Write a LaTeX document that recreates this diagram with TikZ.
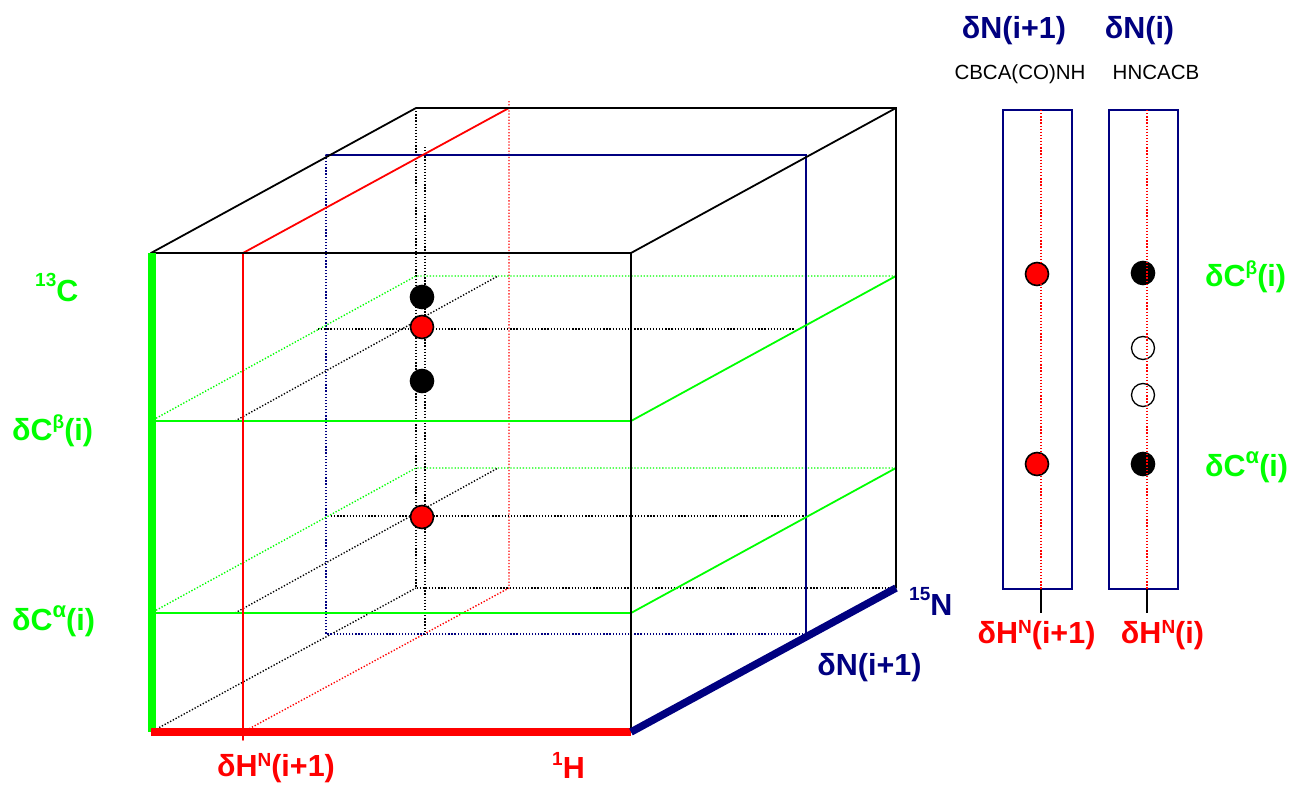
\documentclass[tikz,border=0pt]{standalone}
\usepackage{fontspec}
\setmainfont{Liberation Sans}
\definecolor{gr}{RGB}{0,255,0}
\definecolor{nv}{RGB}{0,0,128}
\newcommand\supr[3][10pt]{\raisebox{#1}{\fontsize{#2}{#2}\selectfont #3}}
\begin{document}
\begin{tikzpicture}[x=1pt,y=-1pt,
  edge/.style={line width=1.8pt,line cap=round},
  hid/.style={line width=1.4pt,dash pattern=on 1.3pt off 1.8pt},
  bar/.style={line width=7.5pt},
  lab/.style={font=\fontsize{30.5}{32}\selectfont\bfseries,anchor=base,inner sep=0pt},
  sm/.style={font=\fontsize{20.5}{22}\selectfont,anchor=base,inner sep=0pt},
  pk/.style={circle,draw=black,line width=1.6pt,minimum size=23pt,inner sep=0pt}]
\useasboundingbox (0,0) rectangle (1294,787);
% cube corners
\coordinate (FTL) at (151,253); \coordinate (FTR) at (631,253);
\coordinate (FBL) at (151,732); \coordinate (FBR) at (631,732);
\coordinate (BTL) at (416,108); \coordinate (BTR) at (896,108);
\coordinate (BBL) at (416,588); \coordinate (BBR) at (896,588);
% hidden cube edges
\draw[hid] (BTL) -- (BBL) -- (BBR);
\draw[hid] (FBL) -- (BBL);
% red plane
\coordinate (R1) at (243,253); \coordinate (R2) at (243,740);
\coordinate (R3) at (509,108); \coordinate (R3a) at (509,101);
\coordinate (R4) at (509,588); \coordinate (R5) at (245,731);
\draw[hid,red] (R3a) -- (R4) -- (R5);
% navy plane
\coordinate (NTL) at (326,155); \coordinate (NTR) at (806,155);
\coordinate (NBR) at (806,637); \coordinate (NBL) at (326,634);
\coordinate (NBRd) at (806,634);
\draw[hid,nv] (NBRd) -- (NBL) -- (NTL);
% green planes
\coordinate (GbFL) at (151,421); \coordinate (GbFR) at (631,421);
\coordinate (GbBR) at (896,276); \coordinate (GbBL) at (416,276);
\coordinate (GaFL) at (151,613); \coordinate (GaFR) at (631,613);
\coordinate (GaBR) at (896,468); \coordinate (GaBL) at (416,468);
\draw[hid,gr] (GbBR) -- (GbBL) -- (GbFL);
\draw[hid,gr] (GaBR) -- (GaBL) -- (GaFL);
% black dotted construction lines
\coordinate (V1) at (425,147); \coordinate (V2) at (425,634);
\draw[hid] (V1) -- (V2);
\coordinate (D1a) at (235,421); \coordinate (D1b) at (498,276);
\coordinate (D2a) at (235,613); \coordinate (D2b) at (498,468);
\draw[hid] (D1a) -- (D1b);
\draw[hid] (D2a) -- (D2b);
\coordinate (H1a) at (318,329); \coordinate (H1b) at (795,329);
\coordinate (H2a) at (331,516); \coordinate (H2b) at (805,516);
\draw[hid] (H1a) -- (H1b);
\draw[hid] (H2a) -- (H2b);
% solid lines
\draw[edge,nv] (NTL) -- (NTR) -- (NBR);
\draw[edge,gr] (GbFL) -- (GbFR) -- (GbBR);
\draw[edge,gr] (GaFL) -- (GaFR) -- (GaBR);
\draw[edge,red] (R2) -- (R1) -- (R3);
\draw[edge] (FTL) -- (FTR) -- (FBR);
\draw[edge] (FTL) -- (BTL) -- (BTR) -- (BBR);
\draw[edge] (FTR) -- (BTR);
% axis bars
\draw[bar,gr] (152,253) coordinate (GA1) -- (152,732) coordinate (GA2);
\draw[bar,red] (FBL) -- (FBR);
\draw[bar,nv] (FBR) -- (BBR);
% peaks in cube
\node[pk,fill=black] (p1) at (422,297) {};
\node[pk,fill=red] (p2) at (422,327) {};
\node[pk,fill=black] (p3) at (422,381) {};
\node[pk,fill=red] (p4) at (422,517) {};
% right panel strips
\node[draw=nv,line width=1.8pt,minimum width=69pt,minimum height=479pt,inner sep=0pt] (s1) at (1037.5,349.5) {};
\node[draw=nv,line width=1.8pt,minimum width=69pt,minimum height=479pt,inner sep=0pt] (s2) at (1143.5,349.5) {};
\node[pk,fill=red] (q1) at (1037,274) {};
\node[pk,fill=red] (q2) at (1037,464) {};
\node[pk,fill=black] (q3) at (1143,273) {};
\node[pk,fill=white,line width=1.3pt] (q4) at (1143,348) {};
\node[pk,fill=white,line width=1.3pt] (q5) at (1143,395) {};
\node[pk,fill=black] (q6) at (1143,464) {};
\coordinate (c1t) at (1041,110); \coordinate (c1b) at (1041,589); \coordinate (c1e) at (1041,613);
\coordinate (c2t) at (1147,110); \coordinate (c2b) at (1147,589); \coordinate (c2e) at (1147,613);
\draw[hid,red] (c1t) -- (c1b);
\draw[hid,red] (c2t) -- (c2b);
\draw[line width=1.6pt] (c1b) -- (c1e);
\draw[line width=1.6pt] (c2b) -- (c2e);
% labels
\node[lab,text=nv] (tN1) at (1014,38) {δN(i+1)};
\node[lab,text=nv] (tN0) at (1139.5,38) {δN(i)};
\node[sm] (tCB) at (1020,79) {CBCA(CO)NH};
\node[sm] (tHN) at (1156,79) {HNCACB};
\node[lab,text=gr,anchor=base west] (rCb) at (1205,286) {δC\supr[12pt]{19}{β}(i)};
\node[lab,text=gr,anchor=base west] (rCa) at (1205,476) {δC\supr[13pt]{22}{α}(i)};
\node[lab,text=red] (rH1) at (1036.5,643) {δH\supr{19}{N}(i+1)};
\node[lab,text=red] (rH0) at (1162.5,643) {δH\supr{19}{N}(i)};
\node[lab,text=gr,anchor=base west] (l13) at (35,301) {\supr[15pt]{19}{13}C};
\node[lab,text=gr,anchor=base west] (lCb) at (12,440) {δC\supr[12pt]{19}{β}(i)};
\node[lab,text=gr,anchor=base west] (lCa) at (12,630) {δC\supr[13pt]{22}{α}(i)};
\node[lab,text=red] (bH1) at (276,776) {δH\supr{19}{N}(i+1)};
\node[lab,text=red,anchor=base west] (b1H) at (552,778) {\supr[13pt]{19}{1}H};
\node[lab,text=nv,anchor=base west] (n15) at (909,615) {\supr[15pt]{19}{15}N};
\node[lab,text=nv] (nN1) at (869.5,675) {δN(i+1)};
\end{tikzpicture}
\end{document}
